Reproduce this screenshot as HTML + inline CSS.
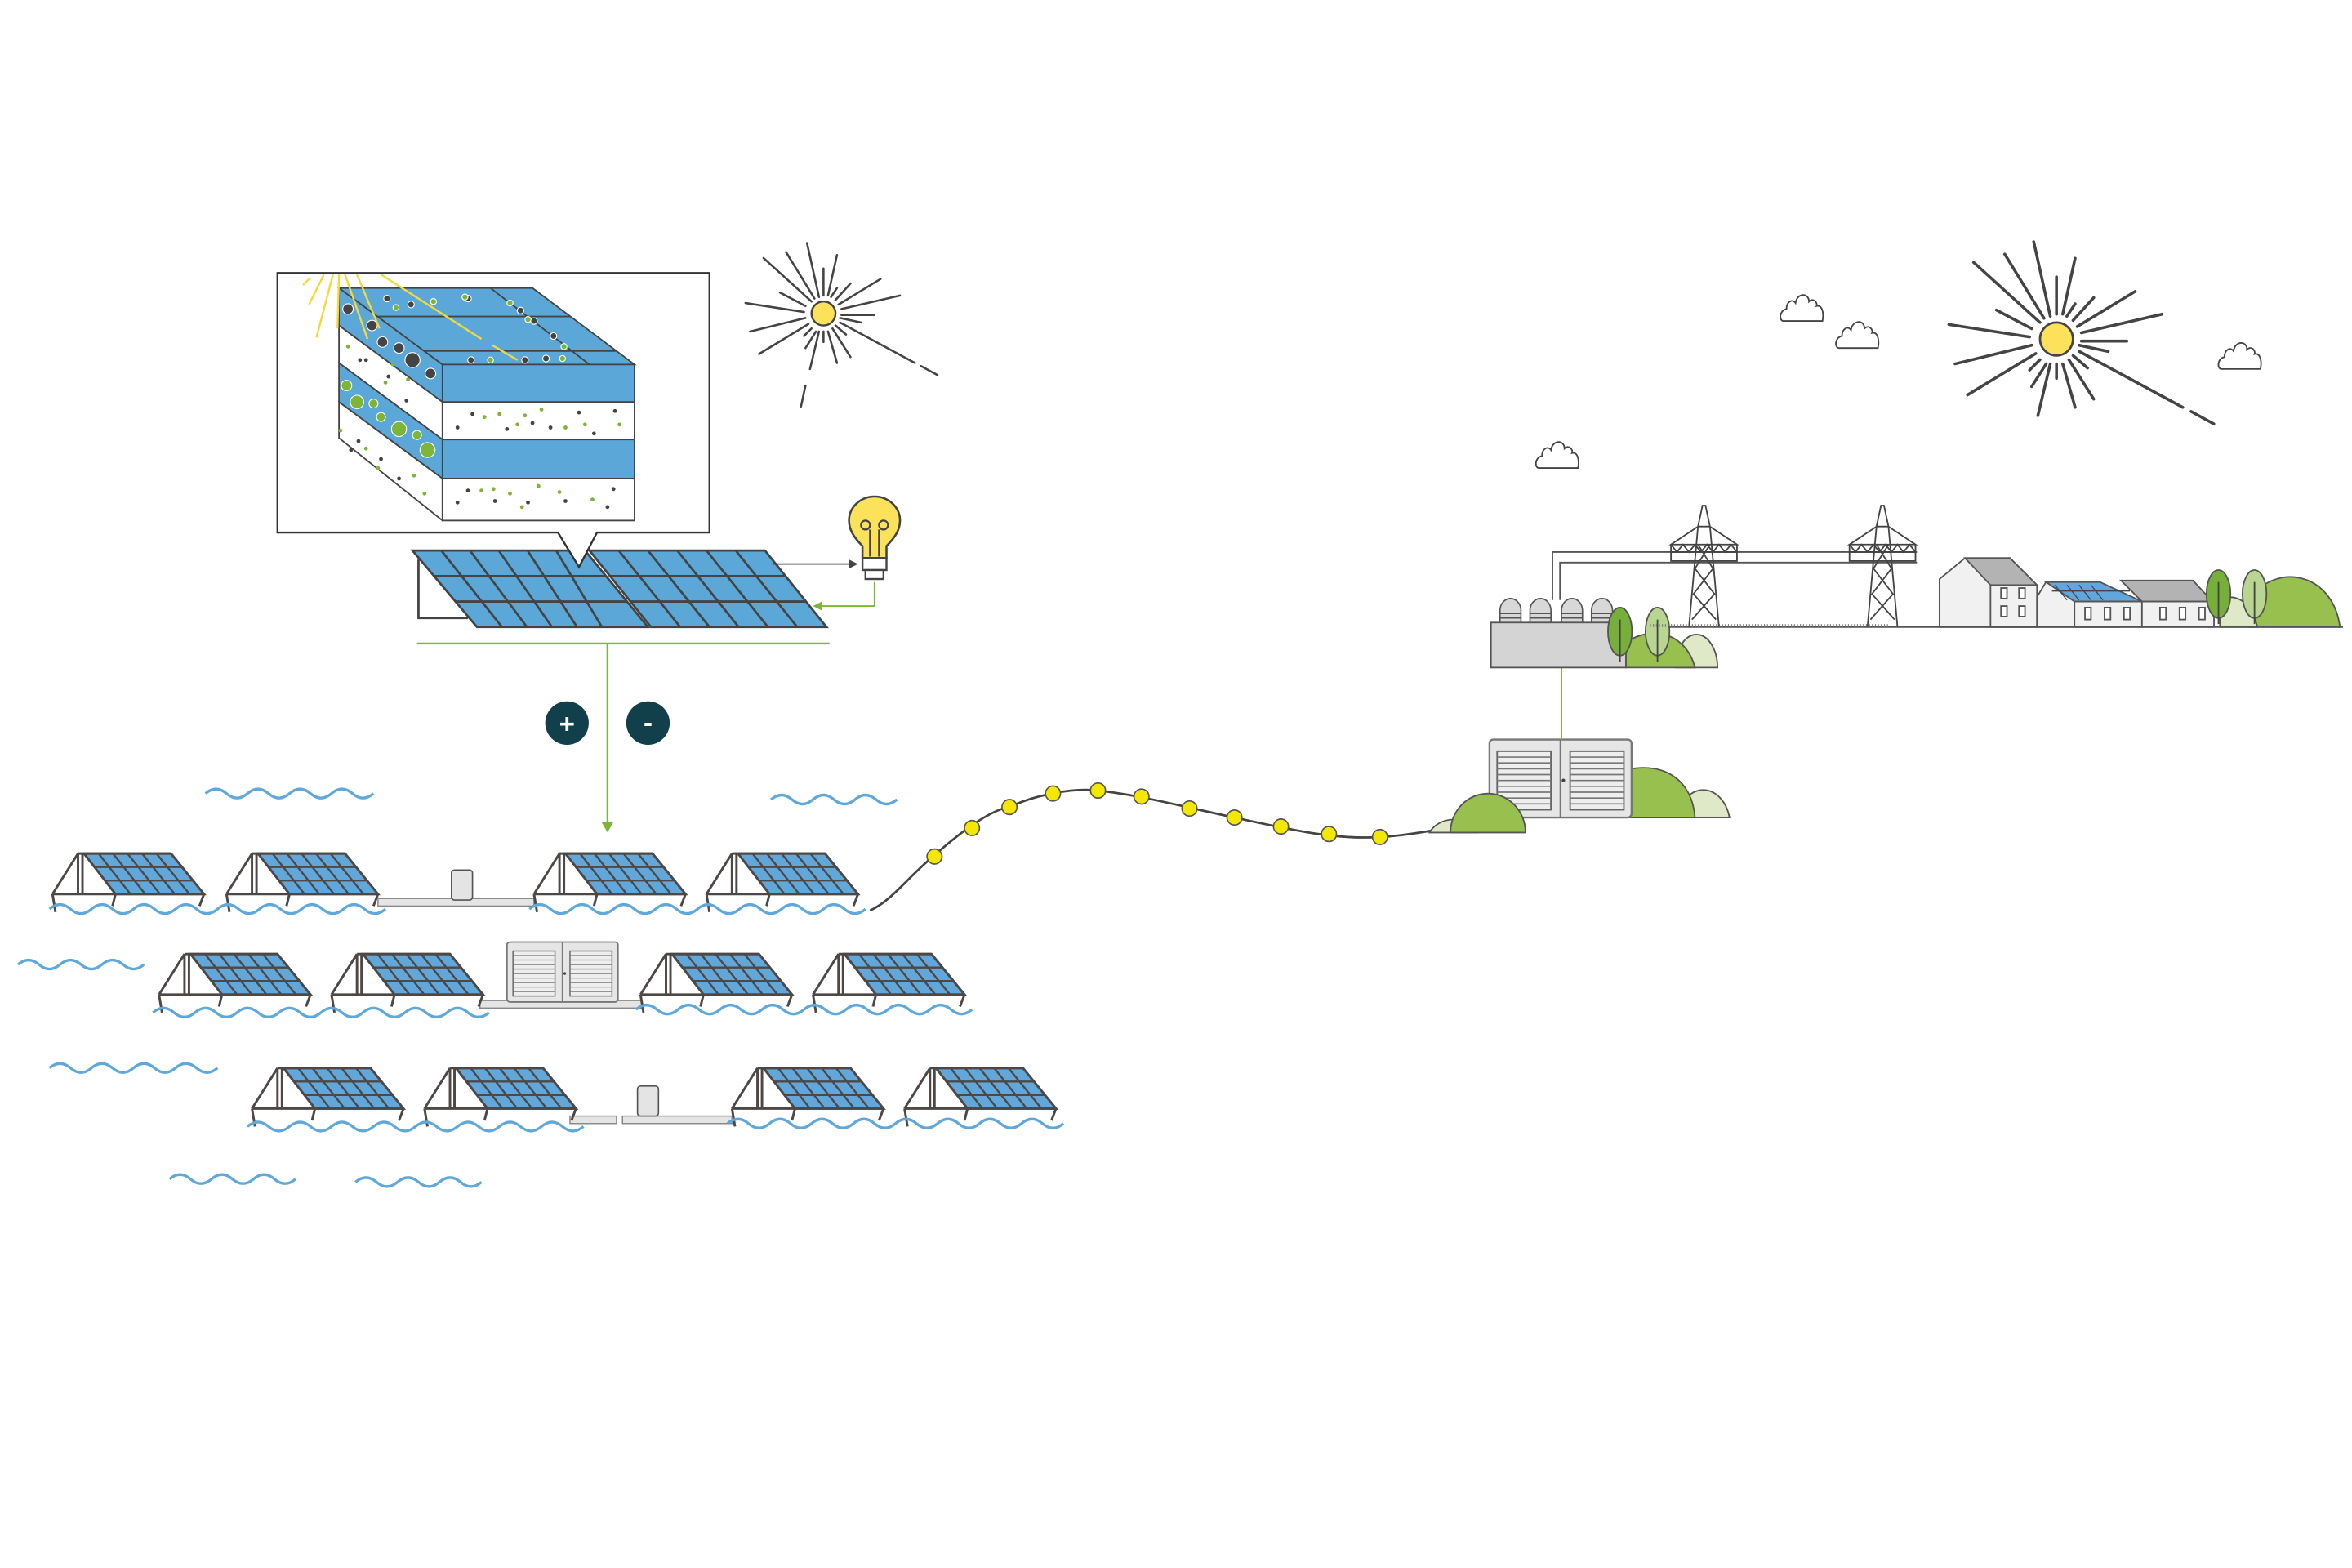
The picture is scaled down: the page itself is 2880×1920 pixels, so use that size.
<!DOCTYPE html>
<html><head><meta charset="utf-8"><style>html,body{margin:0;padding:0;background:#fff}svg{display:block}</style></head><body>
<svg width="2880" height="1920" viewBox="0 0 1568 1045.3" xmlns="http://www.w3.org/2000/svg">
<defs>
<g id="u">
<path d="M0,27 L17,0 M17,0 L17,27 M20,0 L20,27" stroke="#4d4845" stroke-width="1.6" fill="none"/>
<path d="M21,0 L79,0 L101,27 L42,27 Z" fill="#62a7da" stroke="#4d4845" stroke-width="1.6"/>
<path d="M28,9 L86,9 M35,18 L94,18 M30.7,0 L52,27 M40.3,0 L61.8,27 M50,0 L71.7,27 M59.7,0 L81.5,27 M69.3,0 L91.3,27" stroke="#4d4845" stroke-width="1.3" fill="none"/>
<path d="M0,27 L101,27 M0,27 L2,39 M42,27 L40,35 M101,27 L98,35 M17,0 L21,0 L79,0" stroke="#4d4845" stroke-width="1.6" fill="none"/>
</g>
<g id="inv">
<rect x="0" y="0" width="74" height="40" rx="2" fill="#e6e6e6" stroke="#777" stroke-width="1"/>
<line x1="37" y1="0" x2="37" y2="40" stroke="#777" stroke-width="1"/>
<rect x="4" y="6" width="28" height="30" fill="#eee" stroke="#666" stroke-width="0.8"/>
<rect x="42" y="6" width="28" height="30" fill="#eee" stroke="#666" stroke-width="0.8"/>
<path d="M4,9h28M4,12h28M4,15h28M4,18h28M4,21h28M4,24h28M4,27h28M4,30h28M4,33h28M42,9h28M42,12h28M42,15h28M42,18h28M42,21h28M42,24h28M42,27h28M42,30h28M42,33h28" stroke="#777" stroke-width="0.7"/>
<circle cx="38.5" cy="21" r="0.9" fill="#444"/>
</g>
<g id="cloud"><path d="M-17,8 C-20,8 -20,1 -15,0 C-15,-5 -11,-7 -9,-4 C-8,-11 0,-11 0,-5 C3,-8 6,-4 5,-2 C9,-3 10,3 9,8 Z" fill="#fff" stroke="#444" stroke-width="1"/></g>
<g id="rays" stroke="#444" stroke-width="1.4" stroke-linecap="round">
<line x1="-3" y1="-11" x2="-11" y2="-47"/><line x1="-6" y1="-10" x2="-25" y2="-41"/><line x1="-8" y1="-8" x2="-40" y2="-37"/>
<line x1="-12" y1="-5" x2="-29" y2="-14"/><line x1="-13" y1="-1" x2="-52" y2="-7"/><line x1="-12" y1="3" x2="-49" y2="12"/>
<line x1="-10" y1="7" x2="-43" y2="27"/><line x1="-8" y1="10" x2="-13" y2="15"/><line x1="-5" y1="12" x2="-12" y2="23"/>
<line x1="-3" y1="12" x2="-9" y2="37"/><line x1="0" y1="12" x2="0" y2="19"/><line x1="3" y1="12" x2="9" y2="33"/>
<line x1="6" y1="10" x2="18" y2="29"/><line x1="8" y1="8" x2="15" y2="14"/><line x1="11" y1="3" x2="25" y2="6"/>
<line x1="12" y1="1" x2="34" y2="1"/><line x1="12" y1="-3" x2="51" y2="-12"/><line x1="10" y1="-6" x2="38" y2="-23"/>
<line x1="8" y1="-9" x2="18" y2="-20"/><line x1="5" y1="-11" x2="9" y2="-17"/><line x1="3" y1="-12" x2="9" y2="-39"/>
<line x1="0" y1="-12" x2="0" y2="-30"/><line x1="11" y1="6" x2="61" y2="33"/><line x1="65" y1="35" x2="76" y2="41"/>
</g>
<g id="tree"><ellipse cx="0" cy="0" rx="8" ry="16" /><line x1="0" y1="-8" x2="0" y2="20" stroke="#444" stroke-width="1"/></g>
<g id="tower" fill="none" stroke="#444" stroke-width="1">
<path d="M-1,0 L1,0 L4,14 L-4,14 Z M-4,14 L-22,26 L22,26 L4,14 M-22,26 V37 H22 V26 M-22,31 H22 M-22,26 L-18,31 L-14,26 L-10,31 L-6,26 L-2,31 L2,26 L6,31 L10,26 L14,31 L18,26 L22,31 M-4,14 L-10,81 M4,14 L10,81 M-4,26 L6,42 L-7,59 L8,76 M4,26 L-6,42 L7,59 L-8,76"/>
</g>
</defs>

<!-- waves -->
<g fill="none" stroke="#5fa8d9" stroke-width="1.8">
<path d="M137,529 q7,-6 14,0 t14,0 t14,0 t14,0 t14,0 t14,0 t14,0 t14,0"/>
<path d="M514,533 q7,-6 14,0 t14,0 t14,0 t14,0 t14,0 t14,0"/>
<path d="M12,643 q7,-6 14,0 t14,0 t14,0 t14,0 t14,0 t14,0"/>
<path d="M33,712 q7,-6 14,0 t14,0 t14,0 t14,0 t14,0 t14,0 t14,0 t14,0"/>
<path d="M113,786 q7,-6 14,0 t14,0 t14,0 t14,0 t14,0 t14,0"/>
<path d="M237,788 q7,-6 14,0 t14,0 t14,0 t14,0 t14,0 t14,0"/>
</g>

<!-- row 1 -->
<rect x="252" y="599" width="104" height="5" fill="#e4e4e4" stroke="#888" stroke-width="0.8"/>
<rect x="301" y="580" width="14" height="20" rx="2" fill="#e4e4e4" stroke="#555" stroke-width="0.9"/>
<use href="#u" x="35" y="569"/><use href="#u" x="151" y="569"/><use href="#u" x="356" y="569"/><use href="#u" x="471" y="569"/>
<!-- row 2 -->
<rect x="320" y="667" width="108" height="5" fill="#e4e4e4" stroke="#888" stroke-width="0.8"/>
<use href="#inv" x="338" y="628"/>
<use href="#u" x="106" y="636"/><use href="#u" x="221" y="636"/><use href="#u" x="427" y="636"/><use href="#u" x="542" y="636"/>
<!-- row 3 -->
<rect x="380" y="744" width="31" height="5" fill="#e4e4e4" stroke="#888" stroke-width="0.8"/>
<rect x="415" y="744" width="73" height="5" fill="#e4e4e4" stroke="#888" stroke-width="0.8"/>
<rect x="425" y="724" width="14" height="20" rx="2" fill="#e4e4e4" stroke="#555" stroke-width="0.9"/>
<use href="#u" x="168" y="712"/><use href="#u" x="283" y="712"/><use href="#u" x="488" y="712"/><use href="#u" x="603" y="712"/>
<g fill="none" stroke="#5fa8d9" stroke-width="1.8">
<path d="M33,606 q7,-6 14,0 t14,0 t14,0 t14,0 t14,0 t14,0 t14,0 t14,0 t14,0 t14,0 t14,0 t14,0 t14,0 t14,0 t14,0 t14,0"/>
<path d="M353,606 q7,-6 14,0 t14,0 t14,0 t14,0 t14,0 t14,0 t14,0 t14,0 t14,0 t14,0 t14,0 t14,0 t14,0 t14,0 t14,0 t14,0"/>
<path d="M102,675 q7,-6 14,0 t14,0 t14,0 t14,0 t14,0 t14,0 t14,0 t14,0 t14,0 t14,0 t14,0 t14,0 t14,0 t14,0 t14,0 t14,0"/>
<path d="M424,673 q7,-6 14,0 t14,0 t14,0 t14,0 t14,0 t14,0 t14,0 t14,0 t14,0 t14,0 t14,0 t14,0 t14,0 t14,0 t14,0 t14,0"/>
<path d="M165,751 q7,-6 14,0 t14,0 t14,0 t14,0 t14,0 t14,0 t14,0 t14,0 t14,0 t14,0 t14,0 t14,0 t14,0 t14,0 t14,0 t14,0"/>
<path d="M485,749 q7,-6 14,0 t14,0 t14,0 t14,0 t14,0 t14,0 t14,0 t14,0 t14,0 t14,0 t14,0 t14,0 t14,0 t14,0 t14,0 t14,0"/>
</g>

<!-- cable -->
<path d="M580,607 C595,600 605,585 622,571 C640,555 660,540 673,538 C690,530 715,525 732,527 C760,530 790,538 823,545 C860,553 890,560 920,558 C940,557 955,553 968,552" fill="none" stroke="#444" stroke-width="1.5"/>
<g fill="#f4e800" stroke="#555" stroke-width="0.9">
<circle cx="623" cy="571" r="5"/><circle cx="648" cy="552" r="5"/><circle cx="673" cy="538" r="5"/><circle cx="702" cy="529" r="5"/><circle cx="732" cy="527" r="5"/><circle cx="761" cy="531" r="5"/><circle cx="793" cy="539" r="5"/><circle cx="823" cy="545" r="5"/><circle cx="854" cy="551" r="5"/><circle cx="886" cy="556" r="5"/><circle cx="920" cy="558" r="5"/>
</g>

<!-- right inverter + bushes -->
<path d="M953,555 A18,16 0 0 1 985,555 Z" fill="#dfe9c8" stroke="#555" stroke-width="1"/>
<path d="M1118,545 A18,24 0 0 1 1153,545 Z" fill="#dfe9c8" stroke="#555" stroke-width="1"/>
<path d="M1085,545 L1085,513 C1110,508 1128,520 1130,545 Z" fill="#97c04e" stroke="#555" stroke-width="1"/>
<g transform="translate(993,493) scale(1.28,1.3)"><use href="#inv"/></g>
<path d="M967,555 A25,26 0 0 1 1017,555 Z" fill="#97c04e" stroke="#555" stroke-width="1"/>
<line x1="1041" y1="445" x2="1041" y2="493" stroke="#7db536" stroke-width="1"/>

<!-- substation -->
<g fill="#d8d8d8" stroke="#555" stroke-width="0.9">
<path d="M1000,415 V407 A7,8 0 0 1 1014,407 V415"/><path d="M1020,415 V407 A7,8 0 0 1 1034,407 V415"/><path d="M1041,415 V407 A7,8 0 0 1 1055,407 V415"/><path d="M1061,415 V407 A7,8 0 0 1 1075,407 V415"/>
</g>
<path d="M1000,409h14M1000,412h14M1020,409h14M1020,412h14M1041,409h14M1041,412h14M1061,409h14M1061,412h14" stroke="#555" stroke-width="0.8"/>
<path d="M1035,400 V368 H1278 M1040,400 V375 H1278" fill="none" stroke="#555" stroke-width="1"/>
<rect x="994" y="415" width="90" height="30" fill="#d4d4d4" stroke="#555" stroke-width="1"/>
<path d="M1117,445 A14,22 0 0 1 1145,445 Z" fill="#dfe9c8" stroke="#555" stroke-width="1"/>
<path d="M1084,445 L1084,428 C1105,415 1125,425 1130,445 Z" fill="#97c04e" stroke="#555" stroke-width="1"/>
<g fill="#76b03a" stroke="#555" stroke-width="1"><use href="#tree" x="1080" y="421"/></g>
<g fill="#b8d690" stroke="#555" stroke-width="1"><use href="#tree" x="1105" y="421"/></g>
<line x1="1112" y1="418" x2="1562" y2="418" stroke="#555" stroke-width="1"/>
<line x1="1100" y1="417" x2="1260" y2="417" stroke="#777" stroke-width="2" stroke-dasharray="0.6,1.4"/>
<use href="#tower" x="1136" y="337"/><use href="#tower" x="1255" y="337"/>
<!-- houses -->
<g stroke="#555" stroke-width="1">
<path d="M1293,418 V386 L1310,372 L1340,372 L1358,390 V418 Z" fill="#f0f1f0"/>
<path d="M1310,372 H1340 L1358,390 H1327 Z" fill="#b3b3b3"/>
<rect x="1327" y="390" width="31" height="28" fill="#f0f1f0"/>
<rect x="1334" y="392" width="4" height="7" fill="#fff"/><rect x="1346" y="392" width="4" height="7" fill="#fff"/>
<rect x="1334" y="404" width="4" height="7" fill="#fff"/><rect x="1346" y="404" width="4" height="7" fill="#fff"/>
<path d="M1358,418 V398 L1364,388 L1400,388 L1413,401 V418 Z" fill="#f0f1f0"/>
<path d="M1364,388 H1400 L1428,401 H1383 Z" fill="#62a7da"/>
<rect x="1383" y="401" width="45" height="17" fill="#f0f1f0"/>
<rect x="1390" y="405" width="4" height="8" fill="#fff"/><rect x="1403" y="405" width="4" height="8" fill="#fff"/><rect x="1416" y="405" width="4" height="8" fill="#fff"/>
<path d="M1414,387 H1462 L1475,401 H1428 Z" fill="#b3b3b3"/>
<rect x="1428" y="401" width="48" height="17" fill="#f0f1f0"/>
<rect x="1440" y="405" width="4" height="8" fill="#fff"/><rect x="1453" y="405" width="4" height="8" fill="#fff"/><rect x="1466" y="405" width="4" height="8" fill="#fff"/>
</g>
<path d="M1370,390 L1378,400 M1378,390 L1386,400 M1386,390 L1394,400 M1394,390 L1402,400 M1368,394 H1420" stroke="#445" stroke-width="0.7"/>
<path d="M1500,418 L1500,400 C1515,375 1555,380 1560,418 Z" fill="#97c04e" stroke="#555" stroke-width="1"/>
<path d="M1480,418 V400 C1490,395 1500,400 1505,418 Z" fill="#dfe9c8" stroke="#555" stroke-width="1"/>
<g fill="#76b03a" stroke="#555" stroke-width="1"><use href="#tree" x="1479" y="396"/></g>
<g fill="#b8d690" stroke="#555" stroke-width="1"><use href="#tree" x="1503" y="396"/></g>

<!-- suns & clouds -->
<use href="#rays" transform="translate(549,209)"/>
<line x1="537" y1="257" x2="534" y2="271" stroke="#444" stroke-width="1.4" stroke-linecap="round"/>
<circle cx="549" cy="209" r="8" fill="#fbe25a" stroke="#444" stroke-width="1.3"/>
<use href="#rays" transform="translate(1371,226) scale(1.38)"/>
<circle cx="1371" cy="226" r="11" fill="#fbe25a" stroke="#444" stroke-width="1.5"/>
<use href="#cloud" x="1206" y="206"/><use href="#cloud" x="1243" y="224"/><use href="#cloud" x="1043" y="304"/><use href="#cloud" x="1498" y="238"/>

<!-- big panels -->
<path d="M279,373 V412 H312" fill="none" stroke="#444" stroke-width="1.5"/>
<g stroke="#444" stroke-width="1.5">
<path d="M275,367 L390,367 L432,418 L318,418 Z" fill="#5ba8d8"/>
<path d="M393,367 L510,367 L551,418 L434,418 Z" fill="#5ba8d8"/>
<path d="M289.3,384 H404 M303.7,401 H418 M294.2,367 L334.7,418 M313.3,367 L351.3,418 M332.5,367 L368,418 M351.7,367 L384.7,418 M370.8,367 L401.3,418 M406.7,384 H523.7 M420.3,401 H537.3 M412.5,367 L453.5,418 M432,367 L473,418 M451.5,367 L492.5,418 M471,367 L512,418 M490.5,367 L531.5,418" fill="none"/>
</g>
<line x1="515" y1="376" x2="566" y2="376" stroke="#444" stroke-width="1"/>
<path d="M566,373 L572,376 L566,379 Z" fill="#444"/>
<path d="M583,388 V404 H548" fill="none" stroke="#7db536" stroke-width="1"/>
<path d="M548,401 L542,404 L548,407 Z" fill="#7db536"/>
<!-- bulb -->
<path d="M575,372 V364 C569,358 566,353 566,347 A17,16 0 0 1 600,347 C600,353 597,358 591,364 V372 Z" fill="#fbe25a" stroke="#444" stroke-width="1.4"/>
<path d="M580,371 V353 M586,371 V353" fill="none" stroke="#444" stroke-width="1.2"/>
<circle cx="577" cy="350" r="3" fill="none" stroke="#444" stroke-width="1.2"/><circle cx="589" cy="350" r="3" fill="none" stroke="#444" stroke-width="1.2"/>
<rect x="575" y="372" width="16" height="8" fill="#fff" stroke="#444" stroke-width="1.3"/>
<rect x="577" y="380" width="12" height="6" fill="#fff" stroke="#444" stroke-width="1.3"/>
<!-- green lines -->
<line x1="278" y1="429" x2="553" y2="429" stroke="#7db536" stroke-width="1.3"/>
<line x1="405" y1="429" x2="405" y2="549" stroke="#7db536" stroke-width="1.3"/>
<path d="M401,548 L409,548 L405,555 Z" fill="#7db536"/>
<circle cx="378" cy="482" r="14.5" fill="#11404b"/>
<circle cx="432" cy="482" r="14.5" fill="#11404b"/>
<text x="378" y="488.5" font-family="Liberation Sans, sans-serif" font-size="18" font-weight="bold" fill="#fff" text-anchor="middle">+</text>
<text x="432" y="487.5" font-family="Liberation Sans, sans-serif" font-size="18" font-weight="bold" fill="#fff" text-anchor="middle">-</text>

<!-- callout -->
<path d="M185,182 H473 V355 H398 L386,378 L372,355 H185 Z" fill="#fff" stroke="#333" stroke-width="1.3"/>
<g stroke="#444" stroke-width="1">
<path d="M226,192 L295,243 L295,268 L226,217 Z" fill="#5ba8d8"/>
<path d="M226,217 L295,268 L295,293 L226,242 Z" fill="#fff"/>
<path d="M226,242 L295,293 L295,319 L226,268 Z" fill="#5ba8d8"/>
<path d="M226,268 L295,319 L295,347 L226,292 Z" fill="#fff"/>
<path d="M226,192 L355,192 L423,243 L295,243 Z" fill="#5ba8d8"/>
<rect x="295" y="243" width="128" height="25" fill="#5ba8d8"/>
<rect x="295" y="268" width="128" height="25" fill="#fff"/>
<rect x="295" y="293" width="128" height="26" fill="#5ba8d8"/>
<rect x="295" y="319" width="128" height="28" fill="#fff"/>
<path d="M251.7,211 H380.3 M282.8,234 H411 M327,192 L393,243" fill="none"/>
</g>
<g fill="#444">
<circle cx="315" cy="276" r="1.3"/><circle cx="305" cy="285" r="1.3"/><circle cx="338" cy="286" r="1.3"/><circle cx="355" cy="282" r="1.3"/><circle cx="367" cy="285" r="1.3"/><circle cx="386" cy="275" r="1.3"/><circle cx="396" cy="289" r="1.3"/><circle cx="410" cy="274" r="1.3"/>
<circle cx="312" cy="327" r="1.3"/><circle cx="305" cy="335" r="1.3"/><circle cx="330" cy="334" r="1.3"/><circle cx="352" cy="335" r="1.3"/><circle cx="377" cy="334" r="1.3"/><circle cx="405" cy="338" r="1.3"/><circle cx="409" cy="326" r="1.3"/>
<circle cx="240" cy="240" r="1.3"/><circle cx="244" cy="240" r="1.3"/><circle cx="259" cy="251" r="1.3"/><circle cx="271" cy="267" r="1.3"/><circle cx="239" cy="294" r="1.3"/><circle cx="234" cy="300" r="1.3"/><circle cx="254" cy="306" r="1.3"/><circle cx="266" cy="319" r="1.3"/>
</g>
<g fill="#7db536">
<circle cx="323" cy="278" r="1.3"/><circle cx="333" cy="276" r="1.3"/><circle cx="345" cy="283" r="1.3"/><circle cx="350" cy="277" r="1.3"/><circle cx="377" cy="285" r="1.3"/><circle cx="390" cy="283" r="1.3"/><circle cx="413" cy="283" r="1.3"/><circle cx="361" cy="273" r="1.3"/>
<circle cx="321" cy="327" r="1.3"/><circle cx="329" cy="326" r="1.3"/><circle cx="340" cy="329" r="1.3"/><circle cx="359" cy="324" r="1.3"/><circle cx="373" cy="328" r="1.3"/><circle cx="395" cy="333" r="1.3"/><circle cx="348" cy="338" r="1.3"/>
<circle cx="232" cy="231" r="1.3"/><circle cx="262" cy="243" r="1.3"/><circle cx="257" cy="255" r="1.3"/><circle cx="272" cy="253" r="1.3"/><circle cx="227" cy="287" r="1.3"/><circle cx="244" cy="299" r="1.3"/><circle cx="252" cy="312" r="1.3"/><circle cx="276" cy="317" r="1.3"/><circle cx="283" cy="329" r="1.3"/>
</g>
<g fill="#444" stroke="#fff" stroke-width="0.6">
<circle cx="232" cy="206" r="3.5"/><circle cx="248" cy="217" r="3.5"/><circle cx="255" cy="228" r="3.5"/><circle cx="275" cy="240" r="5"/><circle cx="266" cy="232" r="3.5"/><circle cx="287" cy="249" r="3.5"/>
<circle cx="258" cy="199" r="2.2"/><circle cx="274" cy="203" r="2.2"/><circle cx="312" cy="199" r="2.2"/><circle cx="347" cy="207" r="2.2"/><circle cx="356" cy="214" r="2.2"/><circle cx="369" cy="224" r="2.2"/><circle cx="314" cy="240" r="2.2"/><circle cx="350" cy="240" r="2.2"/><circle cx="364" cy="239" r="2.2"/>
</g>
<g fill="#7db536" stroke="#fff" stroke-width="0.6">
<circle cx="231" cy="257" r="3.5"/><circle cx="238" cy="268" r="4.5"/><circle cx="249" cy="269" r="3"/><circle cx="254" cy="278" r="3"/><circle cx="266" cy="286" r="5"/><circle cx="278" cy="290" r="3"/><circle cx="285" cy="300" r="5"/>
<circle cx="264" cy="205" r="2"/><circle cx="289" cy="201" r="2"/><circle cx="310" cy="198" r="2"/><circle cx="340" cy="202" r="2"/><circle cx="352" cy="213" r="2"/><circle cx="376" cy="231" r="2"/><circle cx="327" cy="240" r="2"/><circle cx="375" cy="239" r="2"/>
</g>
<g stroke="#f5d83c" stroke-width="1.3" fill="none">
<path d="M222,183 L211,225 M226,183 L225,219 M216,183 L206,203 M230,183 L245,226 M238,183 L253,219 M254,183 L321,226 M328,230 L345,240 M207,185 L202,190"/>
</g>
</svg>
</body></html>
